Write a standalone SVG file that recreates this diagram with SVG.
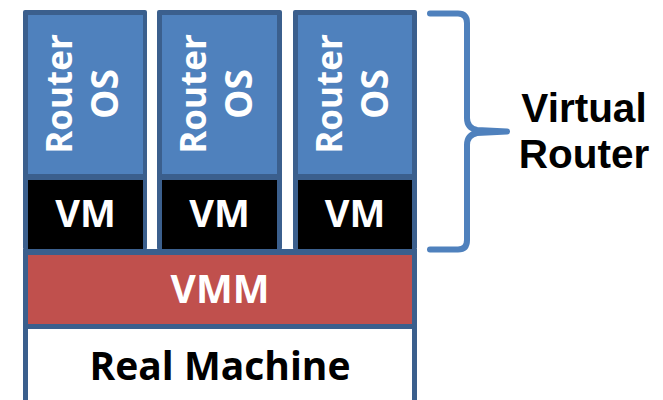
<svg xmlns="http://www.w3.org/2000/svg" width="663" height="400" viewBox="0 0 663 400">
  <style>
    .frame { fill: #3b5f8d; }
    .os { fill: #4f81bd; }
    .vm { fill: #000000; }
    .vmm { fill: #c0504d; }
    .real { fill: #ffffff; }
    .t { font-family: "Open Sans", "Liberation Sans", sans-serif; font-weight: bold; }
    .lbl { font-family: "Liberation Sans", Arial, sans-serif; font-weight: bold; }
    .w { fill: #ffffff; }
    .k { fill: #000000; }
  </style>
  <rect width="663" height="400" fill="#ffffff"/>

  <g id="host">
    <rect class="frame" x="23" y="249" width="394" height="155"/>
    <g id="vmm">
      <rect class="vmm" x="28" y="255" width="384" height="69"/>
      <text class="t w" x="220" y="303" font-size="39" text-anchor="middle">VMM</text>
    </g>
    <g id="real-machine">
      <rect class="real" x="28" y="329" width="384" height="75"/>
      <text class="t k" x="220" y="380" font-size="39" text-anchor="middle">Real Machine</text>
    </g>
  </g>

  <g id="router1">
    <rect class="frame" x="23" y="10" width="124" height="240" rx="2"/>
    <rect class="os" x="28" y="15" width="115" height="159"/>
    <rect class="vm" x="28" y="180" width="115" height="69"/>
    <text class="t w" font-size="35" text-anchor="middle" transform="translate(72,94) rotate(-90)">Router</text>
    <text class="t w" font-size="37" text-anchor="middle" transform="translate(118,94) rotate(-90)">OS</text>
    <text class="t w" x="85.5" y="227" font-size="38" text-anchor="middle">VM</text>
  </g>

  <g id="router2">
    <rect class="frame" x="157" y="10" width="125" height="240" rx="2"/>
    <rect class="os" x="162" y="15" width="115" height="159"/>
    <rect class="vm" x="162" y="180" width="115" height="69"/>
    <text class="t w" font-size="35" text-anchor="middle" transform="translate(206,94) rotate(-90)">Router</text>
    <text class="t w" font-size="37" text-anchor="middle" transform="translate(252,94) rotate(-90)">OS</text>
    <text class="t w" x="219.5" y="227" font-size="38" text-anchor="middle">VM</text>
  </g>

  <g id="router3">
    <rect class="frame" x="293" y="10" width="124" height="240" rx="2"/>
    <rect class="os" x="298" y="15" width="114" height="159"/>
    <rect class="vm" x="298" y="180" width="114" height="69"/>
    <text class="t w" font-size="35" text-anchor="middle" transform="translate(342,94) rotate(-90)">Router</text>
    <text class="t w" font-size="37" text-anchor="middle" transform="translate(388,94) rotate(-90)">OS</text>
    <text class="t w" x="355" y="227" font-size="38" text-anchor="middle">VM</text>
  </g>

  <g id="connectors">
    <path d="M 430 13.5 L 458 13.5 Q 467 13.5 467 23 L 467 118 Q 467 128 477 130 L 507 131.5 L 477 133 Q 467 135 467 145 L 467 240 Q 467 249.5 458 249.5 L 430 249.5" fill="none" stroke="#4f81bd" stroke-width="6" stroke-linecap="round" stroke-linejoin="round"/>
  </g>

  <g id="virtual-router-label">
    <text class="lbl k" x="584" y="122" font-size="40.5" text-anchor="middle">Virtual</text>
    <text class="lbl k" x="584" y="168" font-size="40.5" text-anchor="middle">Router</text>
  </g>
</svg>
